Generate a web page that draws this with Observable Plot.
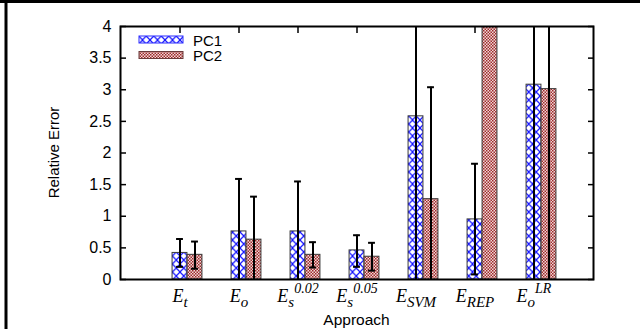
<!DOCTYPE html>
<html>
<head>
<meta charset="utf-8">
<script src="https://cdn.jsdelivr.net/npm/d3@7"></script>
<script src="https://cdn.jsdelivr.net/npm/@observablehq/plot@0.6"></script>
<style>
  html, body { margin: 0; padding: 0; background: #fff; }
  #chart { position: relative; width: 640px; height: 329px; overflow: hidden; }
</style>
</head>
<body>
<div id="chart"></div>
<script>
// ---- data ----
const keys = ["Et", "Eo", "Es002", "Es005", "Esvm", "Erep", "EoLR"];
const labelBase = ["E", "E", "E", "E", "E", "E", "E"];
const labelSub = ["t", "o", "s", "s", "SVM", "REP", "o"];
const labelSup = ["", "", "0.02", "0.05", "", "", "LR"];
const seriesNames = ["PC1", "PC2"];
const pc1 = [0.42, 0.76, 0.76, 0.46, 2.58, 0.95, 3.08];
const pc1Lo = [0.20, -0.07, -0.03, 0.20, -0.44, 0.08, -0.34];
const pc1Hi = [0.64, 1.59, 1.55, 0.70, 5.60, 1.83, 6.50];
const pc2 = [0.39, 0.63, 0.39, 0.36, 1.27, 8.00, 3.01];
const pc2Lo = [0.17, -0.05, 0.19, 0.14, -0.50, 5.00, -0.30];
const pc2Hi = [0.60, 1.31, 0.59, 0.58, 3.04, 11.00, 6.32];
const yTicks = [0, 0.5, 1, 1.5, 2, 2.5, 3, 3.5, 4];
const yLabel = "Relative Error";
const xLabel = "Approach";

const rows1 = keys.map((k, i) => ({key: k, series: seriesNames[0], value: pc1[i], lo: pc1Lo[i], hi: pc1Hi[i]}));
const rows2 = keys.map((k, i) => ({key: k, series: seriesNames[1], value: pc2[i], lo: pc2Lo[i], hi: pc2Hi[i]}));

const barW = 15;
const W = 640, H = 329;
const mL = 120, mR = 47, mT = 26, mB = 50;
const bandW = (W - mL - mR) / 8;
const barInset = (bandW - barW) / 2;
const capInset = (bandW - 7) / 2;

const sans = "'Liberation Sans', Arial, sans-serif";
const serif = "'Liberation Serif', 'Times New Roman', serif";

const barStyle = {stroke: "#3a3a3a", strokeWidth: 1, insetLeft: barInset, insetRight: barInset, clip: true};
const errStyle = {stroke: "#000", strokeWidth: 2, clip: true};
const capStyle = {stroke: "#000", strokeWidth: 2, insetLeft: capInset, insetRight: capInset, clip: true};

const chart = Plot.plot({
  width: W,
  height: H,
  marginLeft: mL,
  marginRight: mR,
  marginTop: mT,
  marginBottom: mB,
  style: {fontFamily: sans, fontSize: "16px", color: "#000", background: "#fff"},
  x: {type: "band", domain: keys, paddingInner: 0, paddingOuter: 0.5, align: 0.5},
  y: {domain: [0, 4]},
  marks: [
    Plot.barY(rows1, {x: "key", y1: 0, y2: "value", fill: "url(#patPC1)", ...barStyle}),
    Plot.barY(rows2, {x: "key", y1: 0, y2: "value", fill: "url(#patPC2)", dx: barW, ...barStyle}),
    Plot.ruleX(rows1, {x: "key", y1: "lo", y2: "hi", ...errStyle}),
    Plot.ruleX(rows2, {x: "key", y1: "lo", y2: "hi", dx: barW, ...errStyle}),
    Plot.tickY(rows1.filter(d => d.hi <= 4), {x: "key", y: "hi", ...capStyle}),
    Plot.tickY(rows1.filter(d => d.lo >= 0), {x: "key", y: "lo", ...capStyle}),
    Plot.tickY(rows2.filter(d => d.hi <= 4), {x: "key", y: "hi", dx: barW, ...capStyle}),
    Plot.tickY(rows2.filter(d => d.lo >= 0 && d.lo <= 4), {x: "key", y: "lo", dx: barW, ...capStyle}),
    // axes
    Plot.axisY(yTicks, {anchor: "left", tickSize: 0, tickPadding: 9, tickFormat: d => String(d), fontSize: 16, label: null}),
    Plot.axisY(yTicks, {anchor: "left", tickSize: -6, tickFormat: () => "", strokeWidth: 1.5, label: null}),
    Plot.axisY(yTicks, {anchor: "right", tickSize: -6, tickFormat: () => "", strokeWidth: 1.5, label: null}),
    Plot.axisX({anchor: "top", tickSize: -6, tickFormat: () => "", strokeWidth: 1.5, label: null}),
    Plot.axisX({anchor: "bottom", tickSize: 0, tickPadding: 10, tickFormat: d => d, label: null,
      fontFamily: serif, fontStyle: "italic", fontSize: 18}),
    Plot.frame({stroke: "#000", strokeWidth: 2})
  ]
});

document.getElementById("chart").appendChild(chart);

const svg = d3.select(chart);

// patterns
const defs = svg.insert("defs", ":first-child");
const p1 = defs.append("pattern").attr("id", "patPC1").attr("patternUnits", "userSpaceOnUse")
  .attr("width", 7.5).attr("height", 8);
p1.append("rect").attr("width", 7.5).attr("height", 8).attr("fill", "#fff");
p1.append("path").attr("d", "M0,0L7.5,8M7.5,0L0,8").attr("stroke", "#1414ff").attr("stroke-width", 1.2).attr("fill", "none");
const p2 = defs.append("pattern").attr("id", "patPC2").attr("patternUnits", "userSpaceOnUse")
  .attr("width", 3).attr("height", 3);
p2.append("rect").attr("width", 3).attr("height", 3).attr("fill", "#f0d8d8");
p2.append("rect").attr("width", 1.5).attr("height", 1.5).attr("fill", "#9e2a2a");
p2.append("rect").attr("x", 1.5).attr("y", 1.5).attr("width", 1.5).attr("height", 1.5).attr("fill", "#9e2a2a");

// x tick labels with sub/superscripts
svg.selectAll("text").each(function() {
  const t = this.textContent;
  const i = keys.indexOf(t);
  if (i < 0) return;
  const el = d3.select(this);
  el.text(null);
  el.append("tspan").text(labelBase[i]);
  el.append("tspan").attr("font-size", 15).attr("dy", 5).text(labelSub[i]);
  if (labelSup[i]) el.append("tspan").attr("font-size", 14).attr("dy", -14).text(labelSup[i]);
});

// axis titles
svg.append("text").attr("x", (mL + W - mR) / 2).attr("y", 324.5).attr("text-anchor", "middle")
  .attr("font-family", sans).attr("font-size", 15.5).text(xLabel);
svg.append("text").attr("transform", `translate(59,${(mT + H - mB) / 2}) rotate(-90)`).attr("text-anchor", "middle")
  .attr("font-family", sans).attr("font-size", 15).text(yLabel);

// legend
const lg = svg.append("g").attr("text-anchor", "start");
[["patPC1", "#2a2aff"], ["patPC2", "#6a3a3a"]].forEach(([pat, st], j) => {
  const y0 = 36 + j * 15.5;
  lg.append("rect").attr("x", 139).attr("y", y0).attr("width", 44).attr("height", 7)
    .attr("fill", `url(#${pat})`).attr("stroke", st).attr("stroke-width", 1);
  lg.append("text").attr("x", 193).attr("y", y0 + 9.5).attr("font-family", sans).attr("font-size", 15)
    .attr("text-anchor", "start").text(seriesNames[j]);
});

// figure border (left and top)
svg.append("line").attr("x1", 6).attr("x2", 6).attr("y1", 0).attr("y2", H).attr("stroke", "#000").attr("stroke-width", 3);
svg.append("line").attr("x1", 0).attr("x2", W).attr("y1", 1.5).attr("y2", 1.5).attr("stroke", "#000").attr("stroke-width", 3);
</script>
</body>
</html>
